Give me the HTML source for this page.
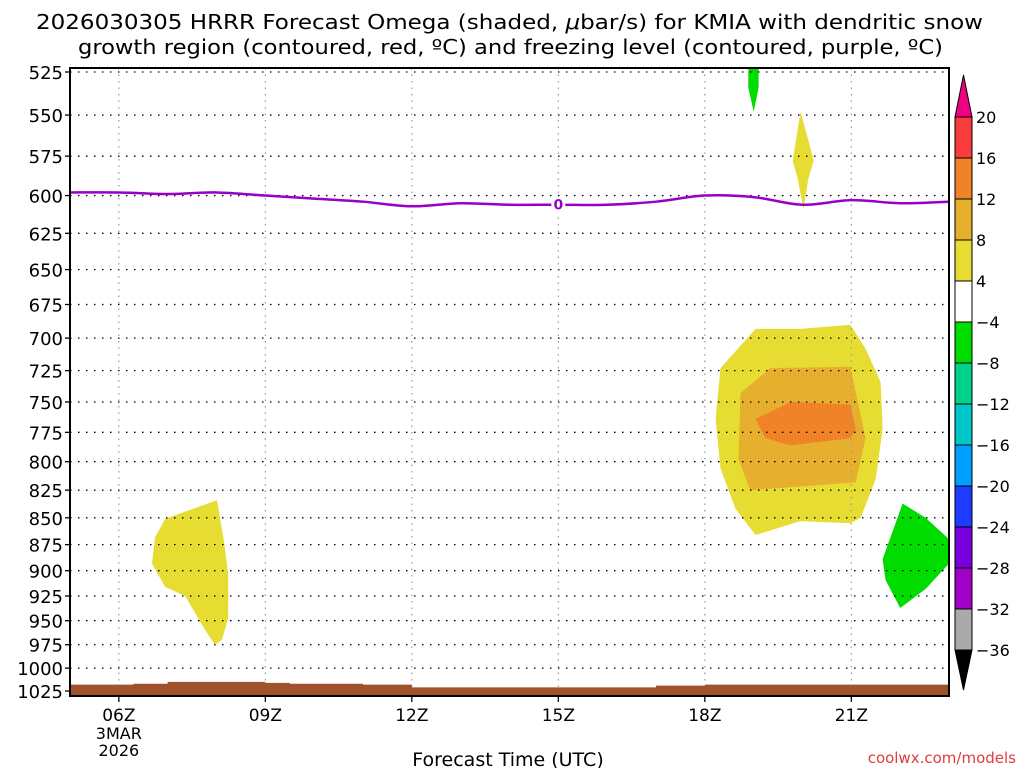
<!DOCTYPE html>
<html><head><meta charset="utf-8"><style>
html,body{margin:0;padding:0;background:#fff;}
svg{display:block;font-family:"DejaVu Sans","Liberation Sans",sans-serif;}
</style></head><body>
<svg id="chart" width="1024" height="768" viewBox="0 0 1024 768">
<g font-size="20" fill="#000">
<text x="36" y="29" textLength="947" lengthAdjust="spacingAndGlyphs">2026030305 HRRR Forecast Omega (shaded, <tspan font-style="italic">μ</tspan>bar/s) for KMIA with dendritic snow</text>
<text x="78" y="54" textLength="865" lengthAdjust="spacingAndGlyphs">growth region (contoured, red, ºC) and freezing level (contoured, purple, ºC)</text>
</g>
<g id="plot"></g>
<g id="axes"></g>
<g id="cbar"></g>
<text x="508" y="766" font-size="19" text-anchor="middle">Forecast Time (UTC)</text>
<text x="1016" y="763" font-size="15" text-anchor="end" fill="#e03c3c">coolwx.com/models</text>
</svg>
<script>
const xTickHours=[6,9,12,15,18,21];
const xTickLabels=["06Z","09Z","12Z","15Z","18Z","21Z"];
const yTicks=[525,550,575,600,625,650,675,700,725,750,775,800,825,850,875,900,925,950,975,1000,1025];
const freezeHours=[5,6,7,8,9,10,11,12,13,14,15,16,17,18,19,20,21,22,23];
const freezePres=[598,598,599,598,600,602,604,607,605,606,606,606,604,600,601,606,603,605,604];
const terrainHours=[5,6.3,6.3,7,7,9,9,9.5,9.5,11,11,12,12,17,17,18,18,23];
const terrainPres=[1018,1018,1017,1017,1015,1015,1016,1016,1017,1017,1018,1018,1021,1021,1019,1019,1018,1018];
const cbLevels=["20","16","12","8","4","−4","−8","−12","−16","−20","−24","−28","−32","−36"];
const cbColors=["#f83c3c","#f08228","#e6af2d","#e6dc32","#ffffff","#00dc00","#00d28c","#00c8c8","#00a0ff","#1e3cff","#7800dc","#a000c8","#aaaaaa"];
const blobLeftH=[6.95,8.01,8.14,8.24,8.24,8.11,7.97,7.77,7.36,6.95,6.68,6.74];
const blobLeftP=[851,834,868,903,947,970,975,960,925,916,893,868];
const bigYelH=[18.32,19.04,19.96,20.98,21.29,21.6,21.64,21.5,21.19,20.98,19.96,19.04,18.63,18.32,18.22];
const bigYelP=[723,693,693,690,708,734,772,815,850,855,853,866,842,806,764];
const darkYelH=[18.73,19.34,20.98,21.29,21.09,18.93,18.69];
const darkYelP=[743,723,722,780,818,825,798];
const orangeH=[19.04,19.75,20.98,21.09,20.98,19.75,19.24];
const orangeP=[764,750,752,772,780,786,780];
const greenRH=[22.05,22.52,23.1,23.1,22.52,22.0,21.7,21.64];
const greenRP=[837,850,874,888,918,937,909,889];
const greenTH=[18.89,19.1,19.1,19.0,18.89];
const greenTP=[520,520,534,548,534];
const yelTopH=[19.96,20.1,20.23,20.12,20.02,19.9,19.8];
const yelTopP=[548,563,578,589,609,589,578];

const NS="http://www.w3.org/2000/svg";
const L=70,R=949,T=68,B=696,H0=5,H1=23;
const yA=72,yB=691,pA=525,pB=1025;
const xs=h=>L+(h-H0)/(H1-H0)*(R-L);
const ys=p=>yA+(Math.log(p)-Math.log(pA))/(Math.log(pB)-Math.log(pA))*(yB-yA);
function mk(tag,attrs,parent){const e=document.createElementNS(NS,tag);for(const k in attrs)e.setAttribute(k,attrs[k]);parent.appendChild(e);return e;}
const svg=document.getElementById('chart');
const plot=document.getElementById('plot');
const axes=document.getElementById('axes');
const cb=document.getElementById('cbar');
const defs=mk('defs',{},svg);
const cp=mk('clipPath',{id:'pc'},defs);mk('rect',{x:L,y:T,width:R-L,height:B-T},cp);
plot.setAttribute('clip-path','url(#pc)');
function poly(hs,ps,color,name){const pts=hs.map((h,i)=>xs(h).toFixed(1)+','+ys(ps[i]).toFixed(1)).join(' ');
const e=mk('polygon',{points:pts,fill:color},plot);

}
poly(blobLeftH,blobLeftP,'#e6dc32','omega-area-left');
poly(bigYelH,bigYelP,'#e6dc32','omega-area-4-8');
poly(darkYelH,darkYelP,'#e6af2d','omega-area-8-12');
poly(orangeH,orangeP,'#f08228','omega-area-12-16');
poly(greenRH,greenRP,'#00dc00','omega-area-neg-right');
poly(greenTH,greenTP,'#00dc00','omega-area-neg-top');
poly(yelTopH,yelTopP,'#e6dc32','omega-area-top');
yTicks.forEach(p=>{const y=ys(p);
const g=mk('line',{x1:L,x2:R,y1:y,y2:y,stroke:'#000','stroke-width':1.3,'stroke-dasharray':'1.5 6.5'},plot);

});
xTickHours.forEach(h=>{const x=xs(h);
const g=mk('line',{x1:x,x2:x,y1:T,y2:B,stroke:'#999','stroke-width':1.2,'stroke-dasharray':'1.5 5'},plot);

});
{let pts=terrainHours.map((h,i)=>xs(h)+','+ys(terrainPres[i])).join(' ');pts+=' '+R+','+B+' '+L+','+B;
const t=mk('polygon',{points:pts,fill:'#a0522d'},plot);

}
{const P=freezeHours.map((h,i)=>[xs(h),ys(freezePres[i])]);
let d='M'+P[0][0]+' '+P[0][1];
for(let i=0;i<P.length-1;i++){const p0=P[Math.max(0,i-1)],p1=P[i],p2=P[i+1],p3=P[Math.min(P.length-1,i+2)];
d+=` C${p1[0]+(p2[0]-p0[0])/6},${p1[1]+(p2[1]-p0[1])/6} ${p2[0]-(p3[0]-p1[0])/6},${p2[1]-(p3[1]-p1[1])/6} ${p2[0]},${p2[1]}`;}
const f=mk('path',{d:d,fill:'none',stroke:'#9600c8','stroke-width':2.5,'stroke-linejoin':'round'},plot);


const bx=xs(15),by=ys(606);
mk('rect',{x:bx-7,y:by-8,width:14,height:16,fill:'#fff'},plot);
const lb=mk('text',{x:bx,y:by+5,'font-size':14,'font-weight':'bold','text-anchor':'middle',fill:'#9600c8'},plot);lb.textContent='0';

}
const fr=mk('rect',{x:L,y:T,width:R-L,height:B-T,fill:'none',stroke:'#000','stroke-width':2},axes);


yTicks.forEach(p=>{const y=ys(p);
mk('line',{x1:L-5,x2:L,y1:y,y2:y,stroke:'#000','stroke-width':1.3},axes);
const t=mk('text',{x:L-7,y:y+7,'font-size':18,'text-anchor':'end'},axes);t.textContent=String(p);

});
xTickHours.forEach((h,i)=>{const x=xs(h);
mk('line',{x1:x,x2:x,y1:B,y2:B+6,stroke:'#000','stroke-width':1.3},axes);
const t=mk('text',{x:x,y:721,'font-size':17,'text-anchor':'middle'},axes);t.textContent=xTickLabels[i];

});
{const x=xs(6);const a=mk('text',{x:x,y:739,'font-size':16,'text-anchor':'middle'},axes);a.textContent='3MAR';


const b=mk('text',{x:x,y:756,'font-size':16,'text-anchor':'middle'},axes);b.textContent='2026';

}
const cx=955,cw=17,c0=117,c1=650;const bh=(c1-c0)/cbColors.length;
const tu=mk('polygon',{points:`${cx},${c0} ${cx+cw},${c0} ${cx+cw/2},75`,fill:'#f00082',stroke:'#000','stroke-width':1},cb);


cbColors.forEach((c,i)=>{const r=mk('rect',{x:cx,y:c0+i*bh,width:cw,height:bh,fill:c,stroke:'#000','stroke-width':1},cb);

});
const td=mk('polygon',{points:`${cx},${c1} ${cx+cw},${c1} ${cx+cw/2},690`,fill:'#000',stroke:'#000','stroke-width':1},cb);


cbLevels.forEach((l,i)=>{const t=mk('text',{x:976,y:c0+i*bh+6,'font-size':16},cb);t.textContent=l;

});
</script>
</body></html>
